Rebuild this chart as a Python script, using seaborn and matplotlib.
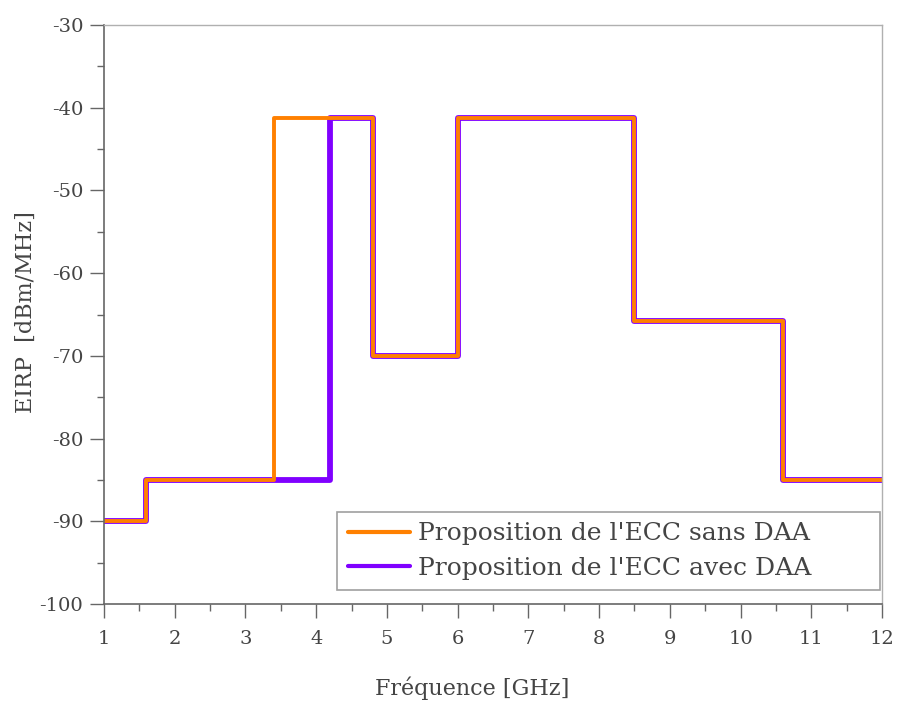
import numpy as np
import pandas as pd
import matplotlib
matplotlib.use("Agg")
import matplotlib.pyplot as plt
import seaborn as sns
from matplotlib.ticker import MultipleLocator

# Data (step edges in GHz and levels in dBm/MHz)
freq_sans = [1, 1.6, 3.4, 4.8, 6.0, 8.5, 10.6, 12]
eirp_sans = [-90, -85, -41.3, -70, -41.3, -65.8, -85, -85]
freq_avec = [1, 1.6, 4.2, 4.8, 6.0, 8.5, 10.6, 12]
eirp_avec = [-90, -85, -41.3, -70, -41.3, -65.8, -85, -85]
label_sans = "Proposition de l'ECC sans DAA"
label_avec = "Proposition de l'ECC avec DAA"

sns.set_theme(style="white")
plt.rcParams['font.family'] = ['DejaVu Serif']
plt.rcParams['axes.unicode_minus'] = False
txt = '#444444'

fig = plt.figure(figsize=(8.98, 7.02), dpi=100)
ax = fig.add_axes([104/898, 1-604/702, (882-104)/898, (604-25)/702])

df_avec = pd.DataFrame({'f': freq_avec, 'p': eirp_avec})
df_sans = pd.DataFrame({'f': freq_sans, 'p': eirp_sans})
sns.lineplot(data=df_avec, x='f', y='p', ax=ax, color='#8000ff', lw=4.2,
             drawstyle='steps-post', label=label_avec, sort=False)
sns.lineplot(data=df_sans, x='f', y='p', ax=ax, color='#ff8000', lw=2.8,
             drawstyle='steps-post', label=label_sans, sort=False)

ax.set_xlim(1, 12)
ax.set_ylim(-100, -30)
ax.xaxis.set_major_locator(MultipleLocator(1))
ax.xaxis.set_minor_locator(MultipleLocator(0.5))
ax.yaxis.set_major_locator(MultipleLocator(10))
ax.yaxis.set_minor_locator(MultipleLocator(5))
ax.tick_params(which='major', direction='out', length=10, width=1, color='#666666',
               labelsize=14, labelcolor=txt, bottom=True, left=True, pad=5)
ax.tick_params(axis='x', which='major', pad=9)
ax.tick_params(which='minor', direction='out', length=5, width=1, color='#666666',
               bottom=True, left=True)

for s in ['left', 'bottom']:
    ax.spines[s].set_color('#666666')
    ax.spines[s].set_linewidth(1.2)
for s in ['top', 'right']:
    ax.spines[s].set_color('#b0b0b0')
    ax.spines[s].set_linewidth(1.0)

ax.set_xlabel('Fréquence [GHz]', fontsize=16, color=txt)
ax.set_ylabel('EIRP  [dBm/MHz]', fontsize=16, color=txt)
ax.xaxis.set_label_coords((472 - 104) / 778, (604 - 676) / 579)
ax.yaxis.set_label_coords((37 - 104) / 778, (604 - 312) / 579)

h, l = ax.get_legend_handles_labels()
order = [l.index(label_sans), l.index(label_avec)]
bx0 = (337 - 104) / 778
by0 = (604 - 590) / 579
bw = (880 - 337) / 778
bh = (590 - 513) / 579
leg = ax.legend([h[i] for i in order], [l[i] for i in order],
                loc='lower left', bbox_to_anchor=(bx0, by0, bw, bh), mode='expand',
                fontsize=18, frameon=True, fancybox=False,
                handlelength=2.5, handletextpad=0.3, borderpad=0.42,
                labelspacing=0.45, borderaxespad=0)
leg.get_frame().set_edgecolor('#888888')
leg.get_frame().set_linewidth(1.2)
for t in leg.get_texts():
    t.set_color(txt)
for lh in leg.get_lines():
    lh.set_linewidth(3.0)

fig.savefig('out.png', dpi=100)
